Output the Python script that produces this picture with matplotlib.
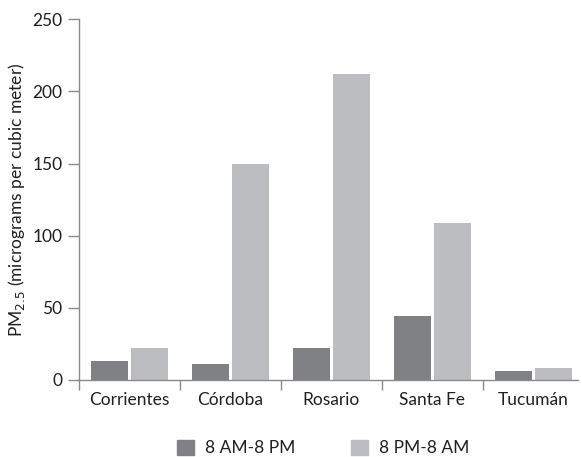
import matplotlib
matplotlib.use("Agg")
import matplotlib.pyplot as plt
import numpy as np
from matplotlib.patches import Patch

# data
cities = ["Corrientes", "Córdoba", "Rosario", "Santa Fe", "Tucumán"]
day_vals = [13, 11, 22, 44, 6]
night_vals = [22, 150, 212, 109, 8]
series_names = ["8 AM-8 PM", "8 PM-8 AM"]
y_ticks = [0, 50, 100, 150, 200, 250]

dark = "#808184"
light = "#bcbdc0"
spine_col = "#8a8a8a"
text_col = "#231f20"

plt.rcParams["font.family"] = ["Lato", "DejaVu Sans"]

fig = plt.figure(figsize=(5.82, 4.57), dpi=100)
ax = fig.add_axes([0.1357, 0.1685, 0.8573, 0.7895])

x = np.arange(len(cities))
w = 0.37
ax.bar(x - 0.2, day_vals, width=w, color=dark, zorder=2)
ax.bar(x + 0.2, night_vals, width=w, color=light, zorder=2)

ax.set_xlim(-0.5, 4.44)
ax.set_ylim(0, 250)
ax.set_yticks(y_ticks)
ax.set_yticklabels([str(v) for v in y_ticks], fontsize=12.5, color=text_col)

# ticks between the groups, labels centred under each group
ax.set_xticks(np.arange(len(cities)) - 0.5)
ax.set_xticklabels([])
ax.set_xticks(x, minor=True)
ax.set_xticklabels(cities, minor=True, fontsize=12.5, color=text_col)
ax.tick_params(axis="x", which="minor", length=0, pad=9)
ax.tick_params(axis="x", which="major", length=7, color=spine_col, width=1)
ax.tick_params(axis="y", length=8, color=spine_col, width=1, pad=4)

for s in ["top", "right"]:
    ax.spines[s].set_visible(False)
for s in ["left", "bottom"]:
    ax.spines[s].set_color(spine_col)
    ax.spines[s].set_linewidth(1)

ax.set_ylabel("PM$_{2.5}$ (micrograms per cubic meter)", fontsize=12.5, color=text_col, labelpad=4)

handles = [Patch(color=dark), Patch(color=light)]
fig.legend(handles, series_names, loc="center", bbox_to_anchor=(0.555, 0.02),
           ncol=2, frameon=False, fontsize=12.5, handlelength=1.0, handleheight=1.0,
           columnspacing=3.2, handletextpad=0.6, labelcolor=text_col)

fig.savefig("out.png", dpi=100)
